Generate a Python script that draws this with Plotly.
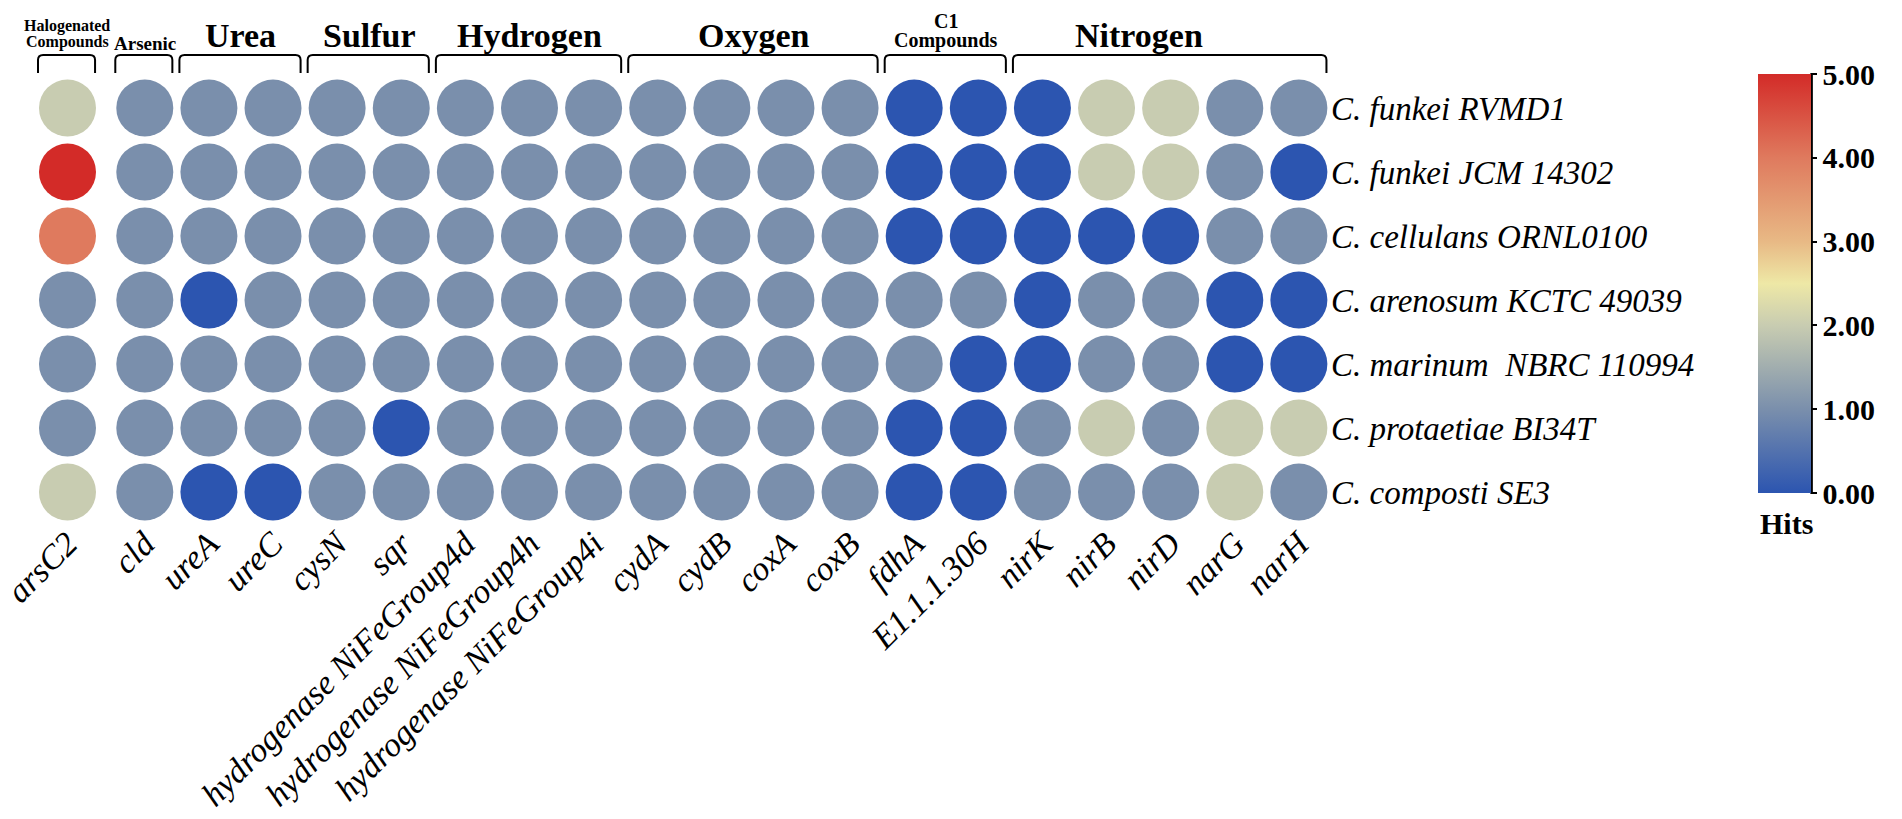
import plotly.graph_objects as go

# genes (columns) and strains (rows)
genes = ["arsC2", "cld", "ureA", "ureC", "cysN", "sqr",
         "hydrogenase NiFeGroup4d", "hydrogenase NiFeGroup4h", "hydrogenase NiFeGroup4i",
         "cydA", "cydB", "coxA", "coxB", "fdhA", "E1.1.1.306",
         "nirK", "nirB", "nirD", "narG", "narH"]

strains = ["C. funkei RVMD1", "C. funkei JCM 14302", "C. cellulans ORNL0100",
           "C. arenosum KCTC 49039", "C. marinum  NBRC 110994",
           "C. protaetiae BI34T", "C. composti SE3"]

# hits per strain, one list per row (same order as genes)
hits_rvmd1 = [2, 1, 1, 1, 1, 1, 1, 1, 1, 1, 1, 1, 1, 0, 0, 0, 2, 2, 1, 1]
hits_jcm14302 = [5, 1, 1, 1, 1, 1, 1, 1, 1, 1, 1, 1, 1, 0, 0, 0, 2, 2, 1, 0]
hits_ornl0100 = [4, 1, 1, 1, 1, 1, 1, 1, 1, 1, 1, 1, 1, 0, 0, 0, 0, 0, 1, 1]
hits_kctc49039 = [1, 1, 0, 1, 1, 1, 1, 1, 1, 1, 1, 1, 1, 1, 1, 0, 1, 1, 0, 0]
hits_nbrc110994 = [1, 1, 1, 1, 1, 1, 1, 1, 1, 1, 1, 1, 1, 1, 0, 0, 1, 1, 0, 0]
hits_bi34t = [1, 1, 1, 1, 1, 0, 1, 1, 1, 1, 1, 1, 1, 0, 0, 1, 2, 1, 2, 2]
hits_se3 = [2, 1, 0, 0, 1, 1, 1, 1, 1, 1, 1, 1, 1, 0, 0, 1, 1, 1, 2, 1]
hits = [hits_rvmd1, hits_jcm14302, hits_ornl0100, hits_kctc49039,
        hits_nbrc110994, hits_bi34t, hits_se3]

# functional groups over the columns
group_names = ["Halogenated\nCompounds", "Arsenic", "Urea", "Sulfur", "Hydrogen",
               "Oxygen", "C1\nCompounds", "Nitrogen"]
group_first = [0, 1, 2, 4, 6, 9, 13, 15]
group_last = [0, 1, 3, 5, 8, 12, 14, 19]

colorbar_ticks = [0, 1, 2, 3, 4, 5]

cscale = [[0.0, "#2c55b0"], [0.2, "#7a8fac"], [0.4, "#c8ccb1"], [0.5, "#eee8a6"],
          [0.6, "#e8b985"], [0.8, "#df7a5e"], [1.0, "#d32b28"]]

SERIF = "Liberation Serif"
W, H = 1902, 819
PLOT_R = 1330      # px, right edge of the dot area
PLOT_B = 516       # px, bottom edge of the dot area
STEP = 64.7        # px between columns
ROW = 64           # px between rows


def xdata(px):
    return 1 + (px - 134) / STEP


def ydata(py):
    return (py - 108) / ROW


def bold(size):
    return dict(family=SERIF, size=size, color="black", weight="bold")


# first column sits a bit apart from the rest
xpos = [i if i > 0 else 1 - 78 / STEP for i in range(len(genes))]

xs, ys, zs, txt = [], [], [], []
for i, row in enumerate(hits):
    for j, v in enumerate(row):
        xs.append(xpos[j])
        ys.append(i)
        zs.append(v)
        txt.append(f"{strains[i]}<br>{genes[j]}: {v}")

fig = go.Figure()
fig.add_trace(go.Scatter(
    x=xs, y=ys, mode="markers", text=txt, hoverinfo="text", cliponaxis=False,
    marker=dict(size=57, color=zs, colorscale=cscale, cmin=0, cmax=5,
                line=dict(width=0), opacity=1,
                showscale=True,
                colorbar=dict(x=1762 / PLOT_R, xanchor="left", xpad=0,
                              y=1 - 283.5 / PLOT_B, yanchor="middle", ypad=0,
                              thickness=53, lenmode="pixels", len=419,
                              outlinewidth=0, ticks="outside", ticklen=6,
                              tickwidth=2, tickcolor="black",
                              tickvals=colorbar_ticks, tickformat=".2f",
                              tickfont=bold(30))),
    showlegend=False))

shapes = []
annotations = []
rx, ry = 0.08, 0.08
yt, yb = ydata(55), ydata(73)
for name, a, b in zip(group_names, group_first, group_last):
    x0 = xpos[a] - 0.46
    x1 = xpos[b] + 0.43
    path = (f"M {x0},{yb} L {x0},{yt + ry} Q {x0},{yt} {x0 + rx},{yt} "
            f"L {x1 - rx},{yt} Q {x1},{yt} {x1},{yt + ry} L {x1},{yb}")
    shapes.append(dict(type="path", path=path, xref="x", yref="y",
                       line=dict(color="black", width=2)))
    cx = (xpos[a] + xpos[b]) / 2
    if name == "Nitrogen":
        cx -= 0.5
    lines = name.split("\n")
    if len(lines) == 2:
        # two-line headers, placed line by line to keep them tight
        small = 16 if a == 0 else 20
        ys_px = [26, 42] if a == 0 else [21, 40]
        for ln, py in zip(lines, ys_px):
            annotations.append(dict(x=cx, y=ydata(py), xref="x", yref="y", text=ln,
                                    showarrow=False, yanchor="middle", font=bold(small)))
    elif name == "Arsenic":
        annotations.append(dict(x=cx, y=ydata(43), xref="x", yref="y", text=name,
                                showarrow=False, yanchor="middle", font=bold(19)))
    else:
        annotations.append(dict(x=cx, y=ydata(35), xref="x", yref="y", text=name,
                                showarrow=False, yanchor="middle", font=bold(34)))

# black axis line on the right of the colour bar
shapes.append(dict(type="line", xref="paper", yref="paper",
                   x0=1816 / PLOT_R, x1=1816 / PLOT_R,
                   y0=1 - 73 / PLOT_B, y1=1 - 494 / PLOT_B,
                   line=dict(color="black", width=2.5)))
annotations.append(dict(x=1762 / PLOT_R, y=1 - 523 / PLOT_B, xref="paper", yref="paper",
                        text="Hits", showarrow=False, xanchor="left", yanchor="middle",
                        font=bold(30)))

fig.update_layout(
    width=W, height=H,
    margin=dict(l=0, r=W - PLOT_R, t=0, b=H - PLOT_B, pad=0),
    paper_bgcolor="white", plot_bgcolor="white",
    shapes=shapes, annotations=annotations,
    xaxis=dict(range=[xdata(0), xdata(PLOT_R)], tickvals=xpos, ticktext=genes,
               tickangle=-45, showgrid=False, zeroline=False, showline=False,
               ticks="", ticklabeloverflow="allow",
               tickfont=dict(family=SERIF, size=34, color="black", style="italic")),
    yaxis=dict(range=[ydata(PLOT_B), ydata(0)], tickvals=list(range(len(strains))),
               ticktext=strains, side="right", showgrid=False, zeroline=False,
               showline=False, ticks="", ticklabeloverflow="allow",
               tickfont=dict(family=SERIF, size=33, color="black", style="italic")),
)

fig.write_html("out.html", config={"displayModeBar": False},
               post_script="document.body.style.margin='0';")
